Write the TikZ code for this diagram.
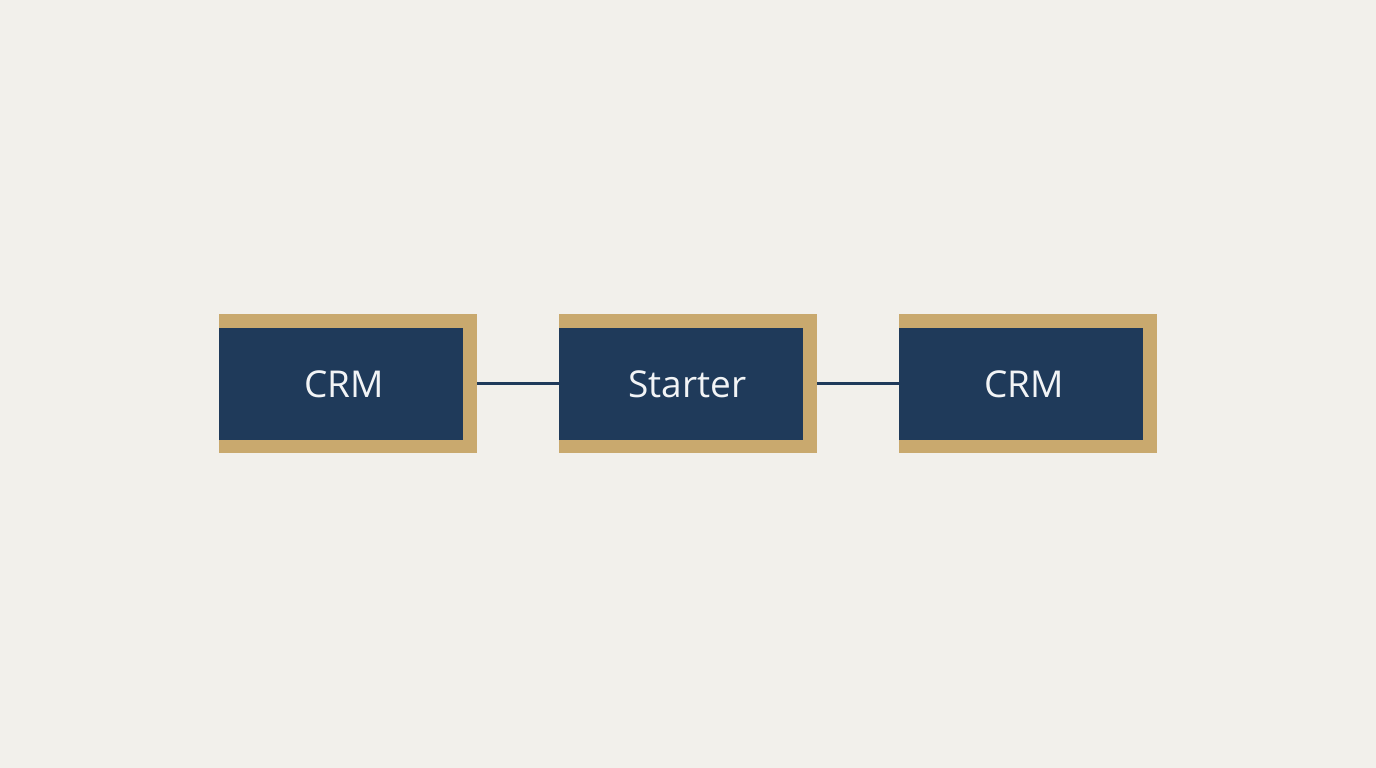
\documentclass[tikz,border=0pt]{standalone}
\usepackage{fontspec}
\setmainfont{Open Sans}
\definecolor{bg}{HTML}{F2F0EB}
\definecolor{gold}{HTML}{C9A96E}
\definecolor{navy}{HTML}{1F3A5A}
\definecolor{txt}{HTML}{F2F4F6}
\begin{document}
\begin{tikzpicture}[x=1pt,y=-1pt,
  goldbox/.style={rectangle,fill=gold,draw=none,minimum width=258pt,minimum height=139pt,inner sep=0pt},
  navybox/.style={rectangle,fill=navy,draw=none,minimum width=244pt,minimum height=112pt,inner sep=0pt,anchor=north west},
  lbl/.style={text=txt,inner sep=0pt,font=\fontsize{37}{42}\selectfont},
  link/.style={draw=navy,line width=3pt}]
\fill[bg] (0,0) rectangle (1376,768);
\useasboundingbox (0,0) rectangle (1376,768);
\node[goldbox] (g1) at (348,383.5) {};
\node[goldbox] (g2) at (688,383.5) {};
\node[goldbox] (g3) at (1028,383.5) {};
\node[navybox] (n1) at (219,328) {};
\node[navybox] (n2) at (559,328) {};
\node[navybox] (n3) at (899,328) {};
\node[lbl] (t1) at ([xshift=3pt]n1.center) {CRM};
\node[lbl] (t2) at ([xshift=6pt]n2.center) {Starter};
\node[lbl] (t3) at ([xshift=3pt]n3.center) {CRM};
\draw[link] (g1.east) -- (g2.west);
\draw[link] (g2.east) -- (g3.west);
\end{tikzpicture}
\end{document}
